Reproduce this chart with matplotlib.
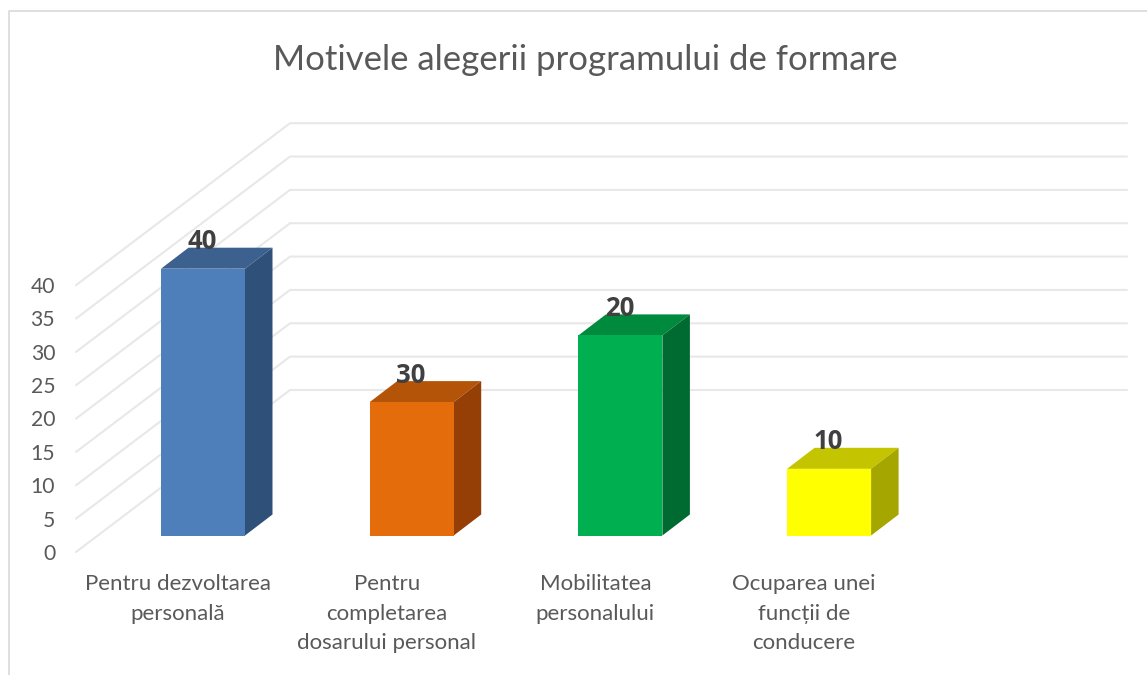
import matplotlib
matplotlib.use("Agg")
import matplotlib.pyplot as plt
from matplotlib.patches import Polygon
from matplotlib.lines import Line2D

plt.rcParams['font.family'] = ['Lato', 'Noto Sans', 'DejaVu Sans']

title = "Motivele alegerii programului de formare"
categories = ["Pentru dezvoltarea\npersonală",
              "Pentru\ncompletarea\ndosarului personal",
              "Mobilitatea\npersonalului",
              "Ocuparea unei\nfuncții de\nconducere"]
bar_values = [40, 20, 30, 10]
data_labels = ["40", "30", "20", "10"]
front_colors = ["#4E7FBB", "#E46C0A", "#00B050", "#FFFF00"]
top_colors = ["#3C618F", "#B45408", "#008A3E", "#C4C400"]
side_colors = ["#2F5078", "#953F06", "#006B30", "#A6A600"]
y_ticks = [0, 5, 10, 15, 20, 25, 30, 35, 40]

W, H = 1147, 675
fig = plt.figure(figsize=(W / 100, H / 100), dpi=100, facecolor="white")

# main axes: x in category units, y in value units, measured from the bars' floor
px_per_cat, cat0_px = 208.7, 203.0
px_per_val, floor_px = 6.67, 535.5
left_px, right_px, top_px = 76.0, 1127.0, 122.5
ax = fig.add_axes([left_px / W, 1 - floor_px / H, (right_px - left_px) / W, (floor_px - top_px) / H])
ax.set_xlim((left_px - cat0_px) / px_per_cat, (right_px - cat0_px) / px_per_cat)
ax.set_ylim(0, (floor_px - top_px) / px_per_val)
ax.patch.set_alpha(0)
for s in ax.spines.values():
    s.set_visible(False)

xs = list(range(len(categories)))
bar_w = 84 / px_per_cat
dx, dy = 27.5 / px_per_cat, 21 / px_per_val

# floor / wall gridlines
wall_dx = 214 / px_per_cat
wall_dy = 162 / px_per_val
front_x = ax.get_xlim()[0]
front_base = (floor_px - 552) / px_per_val
for t in y_ticks:
    y0 = front_base + t
    ax.plot([front_x, front_x + wall_dx, ax.get_xlim()[1]],
            [y0, y0 + wall_dy, y0 + wall_dy],
            color="#E8E8E8", lw=1.5, clip_on=False, zorder=1, solid_capstyle="round")

# bars
ax.bar(xs, bar_values, width=bar_w, color=front_colors, zorder=4, clip_on=False)
for x, v, tc, sc in zip(xs, bar_values, top_colors, side_colors):
    l, r = x - bar_w / 2, x + bar_w / 2
    ax.add_patch(Polygon([(l, v), (r, v), (r + dx, v + dy), (l + dx, v + dy)],
                         closed=True, fc=tc, ec="none", zorder=3, clip_on=False))
    ax.add_patch(Polygon([(r, 0), (r + dx, dy), (r + dx, v + dy), (r, v)],
                         closed=True, fc=sc, ec="none", zorder=3, clip_on=False))

# data labels
for x, v, lab in zip(xs, bar_values, data_labels):
    ax.annotate(lab, (x, v), xytext=(-1, 27), textcoords="offset pixels",
                ha="center", va="center", fontsize=18.5, fontweight="bold",
                family="Open Sans", color="#404040", zorder=6, annotation_clip=False)

# category labels
ax.set_xticks([])
ax.set_yticks([])
label_shift = 25 / px_per_cat
for x, lab in zip(xs, categories):
    ax.annotate(lab, (x - label_shift, 0), xytext=(0, -39), textcoords="offset pixels",
                ha="center", va="top", fontsize=16, color="#595959",
                linespacing=1.58, annotation_clip=False)

# value axis (front edge of the 3D box)
ax2 = fig.add_axes([left_px / W, 1 - 552 / H, 0.001, (552 - 285) / H])
ax2.patch.set_alpha(0)
ax2.set_ylim(0, 40)
ax2.set_xticks([])
ax2.set_yticks(y_ticks)
ax2.tick_params(axis="y", length=0, pad=15, labelsize=15.2, labelcolor="#595959")
for s in ax2.spines.values():
    s.set_visible(False)

# title and chart frame
fig.text(585 / W, 1 - 60 / H, title, ha="center", va="center", fontsize=25, color="#595959")
fig.add_artist(Line2D([9 / W, 9 / W, 1], [0, 1 - 11 / H, 1 - 11 / H], transform=fig.transFigure,
                      color="#D9D9D9", lw=1.2))

fig.savefig("out.png", dpi=100, facecolor="white")
